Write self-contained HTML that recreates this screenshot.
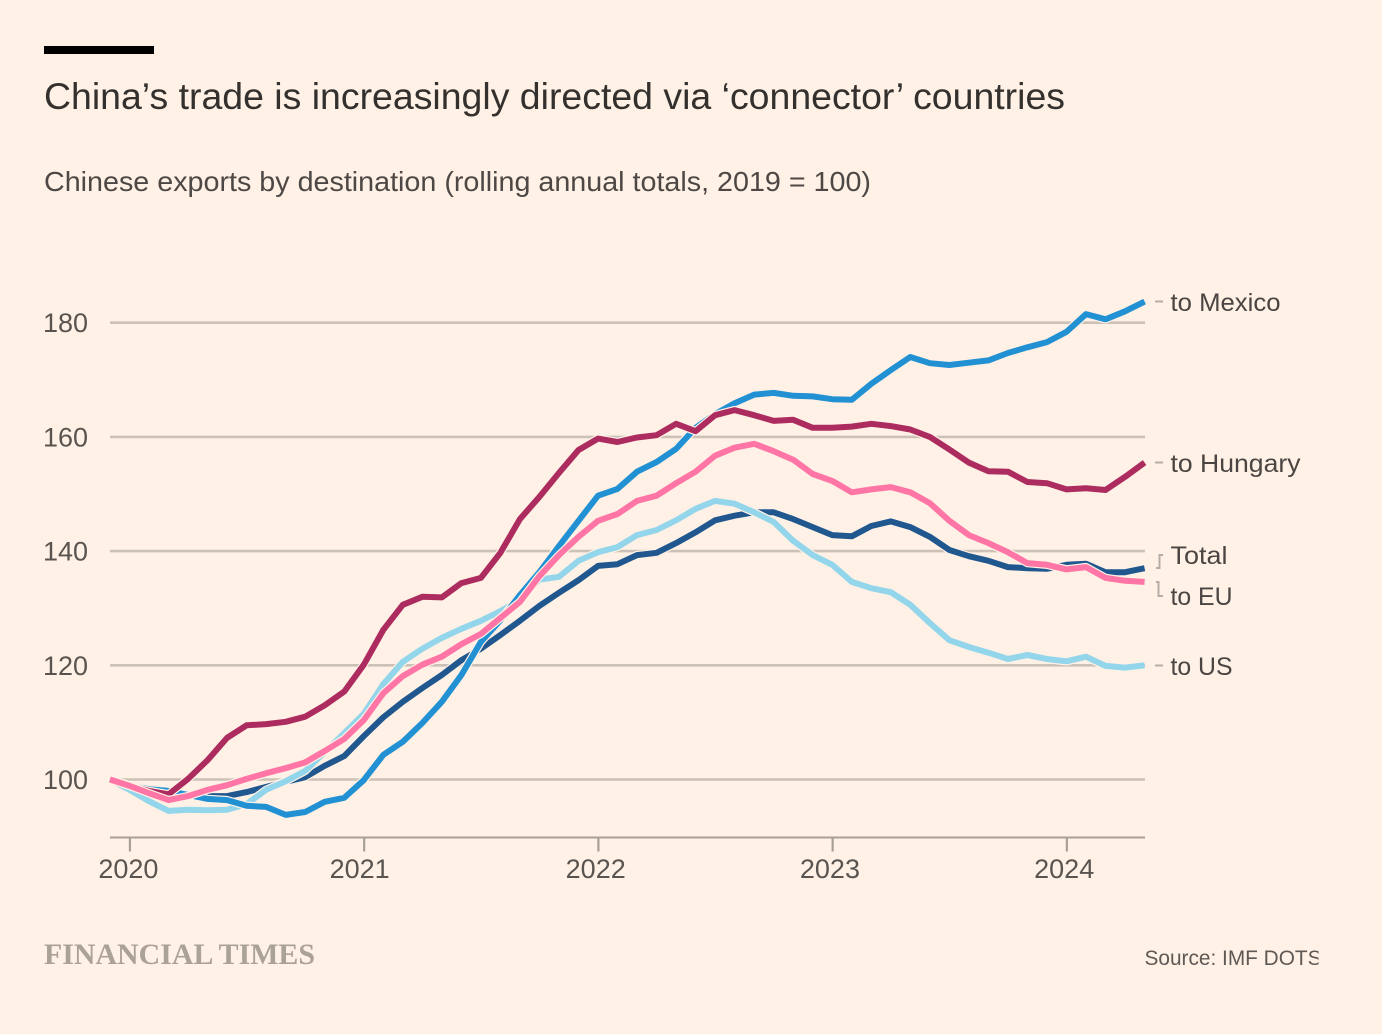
<!DOCTYPE html>
<html lang="en">
<head>
<meta charset="utf-8">
<title>China's trade is increasingly directed via 'connector' countries</title>
<style>
  html, body { margin: 0; padding: 0; background: #fff1e5; }
  body { width: 1382px; height: 1034px; overflow: hidden; }
  svg { display: block; font-family: "Liberation Sans", sans-serif; }
  .tick-label { font-size: 27px; fill: #5a5450; }
  .series-label { font-size: 25px; fill: #4a4542; }
</style>
</head>
<body>
<svg id="chart" width="1382" height="1034" viewBox="0 0 1382 1034" xmlns="http://www.w3.org/2000/svg">
  <defs>
    <clipPath id="source-clip"><rect x="1100" y="930" width="218.5" height="50"></rect></clipPath>
  </defs>
  <rect x="0" y="0" width="1382" height="1034" fill="#fff1e5"></rect>
  <rect x="44" y="46" width="110" height="8" fill="#000000"></rect>
  <text x="44" y="109" font-size="37" fill="#33302e" textLength="1021" lengthAdjust="spacingAndGlyphs">China’s trade is increasingly directed via ‘connector’ countries</text>
  <text x="44" y="191" font-size="28" fill="#4d4845" textLength="827" lengthAdjust="spacingAndGlyphs">Chinese exports by destination (rolling annual totals, 2019 = 100)</text>
  <g id="grid"></g>
  <g id="x-axis"></g>
  <g id="y-labels"></g>
  <g id="series"></g>

  <g>
    <path d="M1155 301.5H1163" stroke="#b5aea8" stroke-width="2" fill="none"></path>
    <text class="series-label" x="1170.5" y="311" textLength="110" lengthAdjust="spacingAndGlyphs">to Mexico</text>
    <path d="M1155 462.5H1163" stroke="#b5aea8" stroke-width="2" fill="none"></path>
    <text class="series-label" x="1170.5" y="472" textLength="130" lengthAdjust="spacingAndGlyphs">to Hungary</text>
    <path d="M1156 568H1159.5V555H1163" stroke="#b5aea8" stroke-width="2" fill="none"></path>
    <text class="series-label" x="1170.5" y="564" textLength="57" lengthAdjust="spacingAndGlyphs">Total</text>
    <path d="M1156 582H1158.5V596H1163" stroke="#b5aea8" stroke-width="2" fill="none"></path>
    <text class="series-label" x="1170.5" y="605" textLength="62" lengthAdjust="spacingAndGlyphs">to EU</text>
    <path d="M1155 665.5H1163" stroke="#b5aea8" stroke-width="2" fill="none"></path>
    <text class="series-label" x="1170.5" y="675" textLength="62" lengthAdjust="spacingAndGlyphs">to US</text>
  </g>

  <text x="44" y="964" font-family="'Liberation Serif', serif" font-weight="700" font-size="30" fill="#aaa197" textLength="271" lengthAdjust="spacingAndGlyphs">FINANCIAL TIMES</text>
  <g clip-path="url(#source-clip)">
    <text x="1144.5" y="965" font-size="21" fill="#5f5955" textLength="177" lengthAdjust="spacingAndGlyphs">Source: IMF DOTS</text>
  </g>
</svg>
<script>
// Month index 0 = Dec 2019, index 53 = May 2024
const yTicks = [100, 120, 140, 160, 180];
const xTickYears = ['2020', '2021', '2022', '2023', '2024'];
const xTickMonthIndex = [1, 13, 25, 37, 49];

const mexicoValues = [100, 99.0, 98.3, 98.0, 97.3, 96.6, 96.4, 95.4, 95.2, 93.8, 94.3, 96.1, 96.8, 99.9, 104.3, 106.6, 109.9, 113.6, 118.3, 124.1, 127.9, 132.3, 136.3, 140.9, 145.3, 149.7, 150.9, 153.9, 155.6, 157.9, 161.6, 164.0, 165.9, 167.4, 167.7, 167.2, 167.1, 166.6, 166.5, 169.3, 171.7, 174.0, 172.9, 172.6, 173.0, 173.4, 174.7, 175.7, 176.6, 178.4, 181.5, 180.6, 182.0, 183.7];
const hungaryValues = [100, 98.9, 98.0, 97.4, 100.1, 103.4, 107.3, 109.5, 109.7, 110.1, 111.0, 113.0, 115.4, 120.1, 126.2, 130.6, 132.0, 131.9, 134.4, 135.3, 139.7, 145.6, 149.5, 153.7, 157.7, 159.7, 159.1, 159.9, 160.3, 162.3, 161.0, 163.8, 164.7, 163.8, 162.8, 163.0, 161.6, 161.6, 161.8, 162.3, 161.9, 161.3, 160.0, 157.8, 155.5, 154.0, 153.9, 152.1, 151.9, 150.8, 151.0, 150.7, 153.0, 155.5];
const euValues = [100, 98.9, 97.6, 96.4, 97.1, 98.2, 99.0, 100.1, 101.1, 102.0, 103.0, 105.0, 107.1, 110.4, 115.1, 118.1, 120.1, 121.5, 123.7, 125.5, 128.3, 131.1, 135.6, 139.3, 142.5, 145.3, 146.5, 148.8, 149.7, 151.9, 153.9, 156.7, 158.1, 158.8, 157.5, 156.0, 153.5, 152.3, 150.3, 150.8, 151.2, 150.3, 148.4, 145.3, 142.8, 141.4, 139.8, 137.9, 137.6, 136.8, 137.2, 135.3, 134.8, 134.6];
const usValues = [100, 98.2, 96.2, 94.5, 94.7, 94.6, 94.7, 95.7, 98.2, 99.7, 101.5, 104.8, 108.1, 111.5, 116.7, 120.6, 122.9, 124.8, 126.4, 127.8, 129.5, 131.4, 135.0, 135.5, 138.3, 139.8, 140.7, 142.8, 143.7, 145.4, 147.4, 148.8, 148.3, 146.8, 145.1, 141.8, 139.3, 137.6, 134.6, 133.5, 132.8, 130.6, 127.4, 124.4, 123.2, 122.2, 121.1, 121.8, 121.1, 120.7, 121.5, 119.9, 119.6, 120.0];
const totalValues = [100, 98.9, 98.0, 97.5, 97.3, 97.1, 97.1, 97.8, 98.7, 99.6, 100.4, 102.4, 104.1, 107.6, 110.9, 113.6, 116.0, 118.3, 120.9, 122.9, 125.3, 127.8, 130.4, 132.7, 134.9, 137.4, 137.7, 139.3, 139.7, 141.4, 143.3, 145.4, 146.2, 146.8, 146.8, 145.6, 144.2, 142.8, 142.6, 144.4, 145.2, 144.2, 142.5, 140.2, 139.1, 138.3, 137.2, 137.0, 136.9, 137.6, 137.8, 136.3, 136.3, 137.0];

const NS = 'http://www.w3.org/2000/svg';
const BG = '#fff1e5';
const plotLeft = 110, plotRight = 1145;

function xScale(i) { return 110 + i * 19.52; }
function yScale(v) { return 779.5 - (v - 100) * 5.71; }

function make(tag, attrs, parent) {
  const el = document.createElementNS(NS, tag);
  for (const k in attrs) el.setAttribute(k, attrs[k]);
  parent.appendChild(el);
  return el;
}

const gridGroup = document.getElementById('grid');
const yLabelGroup = document.getElementById('y-labels');
yTicks.forEach(function (t) {
  const y = yScale(t);
  const line = make('line', { x1: plotLeft, x2: plotRight, y1: y, y2: y, stroke: '#ccc1b6', 'stroke-width': 2.6 }, gridGroup);
  
  
  const label = make('text', { x: 88, y: y + 9.5, 'text-anchor': 'end', class: 'tick-label' }, yLabelGroup);
  
  
  label.textContent = t;
});

const xGroup = document.getElementById('x-axis');
const baseline = make('line', { x1: plotLeft, x2: plotRight, y1: 837.5, y2: 837.5, stroke: '#a8a097', 'stroke-width': 2 }, xGroup);


xTickYears.forEach(function (yr, n) {
  const x = xScale(xTickMonthIndex[n]) + 0.4;
  const tick = make('line', { x1: x, x2: x, y1: 837.5, y2: 851.5, stroke: '#a8a097', 'stroke-width': 2.2 }, xGroup);
  
  
  const offset = n === 0 ? 1.5 : (n === 1 ? 4.5 : 2.7);
  const label = make('text', { x: x - offset, y: 878, 'text-anchor': 'middle', class: 'tick-label' }, xGroup);
  
  
  label.textContent = yr;
});

const seriesGroup = document.getElementById('series');
function drawSeries(name, values, color) {
  const d = values.map(function (v, i) {
    return (i ? 'L' : 'M') + xScale(i).toFixed(1) + ' ' + yScale(v).toFixed(1);
  }).join('');
  const halo = make('path', { d: d, fill: 'none', stroke: BG, 'stroke-width': 8.4, 'stroke-linejoin': 'round' }, seriesGroup);
  
  
  const line = make('path', { d: d, fill: 'none', stroke: color, 'stroke-width': 6, 'stroke-linejoin': 'round' }, seriesGroup);
  
  
}
drawSeries('total', totalValues, '#20578f');
drawSeries('us', usValues, '#93d5ea');
drawSeries('mexico', mexicoValues, '#2191d3');
drawSeries('hungary', hungaryValues, '#ad2c5f');
drawSeries('eu', euValues, '#ff76a6');
</script>
</body>
</html>
